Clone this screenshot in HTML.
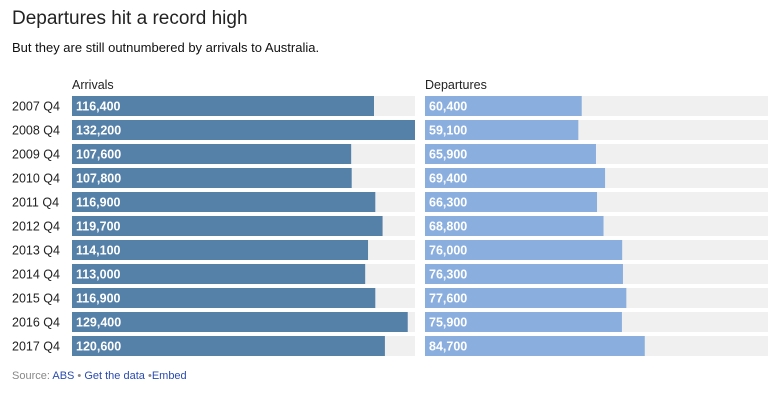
<!DOCTYPE html>
<html><head><meta charset="utf-8"><style>
body{margin:0;background:#fff;font-family:"Liberation Sans",Arial,sans-serif;width:783px;height:407px;overflow:hidden;position:relative}
.t{position:absolute;white-space:nowrap}
</style></head><body>
<div class="t" style="left:12px;top:8px;font-size:19px;color:#222">Departures hit a record high</div>
<div class="t" style="left:12px;top:40px;font-size:13px;color:#111">But they are still outnumbered by arrivals to Australia.</div>
<svg id="c" width="783" height="407" style="position:absolute;left:0;top:0">
<text x="72" y="89" font-size="12.5" fill="#222">Arrivals</text>
<text x="425" y="89" font-size="12.5" fill="#222">Departures</text>
</svg>
<div class="t" style="left:12px;top:370px;font-size:11px;color:#888">Source: <span style="color:#2a4bb0">ABS</span> • <span style="color:#2a4bb0">Get the data</span> •<span style="color:#2a4bb0">Embed</span></div>
<script>
const categories=["2007 Q4","2008 Q4","2009 Q4","2010 Q4","2011 Q4","2012 Q4","2013 Q4","2014 Q4","2015 Q4","2016 Q4","2017 Q4"];
const arrivals=[116400,132200,107600,107800,116900,119700,114100,113000,116900,129400,120600];
const departures=[60400,59100,65900,69400,66300,68800,76000,76300,77600,75900,84700];
const maxV=Math.max(...arrivals,...departures);
const W=343,top0=96,pitch=24,bh=20;
const x=v=>v/maxV*W;
const y=i=>top0+i*pitch;
const svg=document.getElementById('c');
const NS='http://www.w3.org/2000/svg';
function mk(t,a){const e=document.createElementNS(NS,t);for(const k in a)e.setAttribute(k,a[k]);svg.appendChild(e);return e;}
const fmt=v=>v.toLocaleString('en-US');
categories.forEach((c,i)=>{
  const lab=mk('text',{x:12,y:y(i)+14.5,'font-size':12.5,fill:'#222'});
  lab.textContent=c;
  
  
  [[72,arrivals,'#5580a8','arrival'],[425,departures,'#8aaede','departure']].forEach(([x0,arr,col,nm])=>{
    const bg=mk('rect',{x:x0,y:y(i),width:W,height:bh,fill:'#f0f0f0'});
    
    
    const r=mk('rect',{x:x0,y:y(i),width:x(arr[i]),height:bh,fill:col});
    
    
    const t=mk('text',{x:x0+4,y:y(i)+14.5,'font-size':12.5,'font-weight':'bold',fill:'#fff'});
    t.textContent=fmt(arr[i]);
    
    
  });
});
</script>
</body></html>
